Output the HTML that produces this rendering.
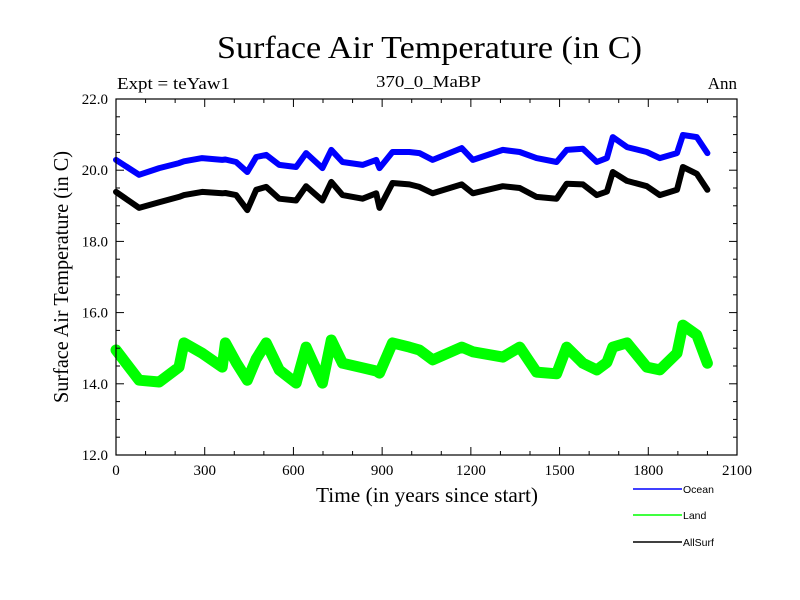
<!DOCTYPE html>
<html><head><meta charset="utf-8"><style>
body{margin:0;background:#fff}svg{display:block}
text{font-family:"Liberation Serif",serif}
</style></head><body>
<svg id="chart" width="800" height="600" viewBox="0 0 800 600">
<text x="217" y="58" font-size="32" textLength="425" lengthAdjust="spacingAndGlyphs">Surface Air Temperature (in C)</text>
<text x="117" y="89" font-size="17" textLength="113" lengthAdjust="spacingAndGlyphs">Expt = teYaw1</text>
<text x="376" y="87" font-size="17" textLength="105" lengthAdjust="spacingAndGlyphs">370_0_MaBP</text>
<text x="737" y="89" font-size="17" text-anchor="end">Ann</text>
<text transform="translate(68,277) rotate(-90)" font-size="21" text-anchor="middle" textLength="252" lengthAdjust="spacingAndGlyphs">Surface Air Temperature (in C)</text>
<text x="427" y="502" font-size="21" text-anchor="middle" textLength="222" lengthAdjust="spacingAndGlyphs">Time (in years since start)</text>
<g id="series"></g>
<g id="axes"></g>
<g>
<line x1="633" y1="489" x2="682" y2="489" stroke="#0000ff" stroke-width="1.5"/>
<text x="683" y="493" font-size="10.5" style="font-family:'Liberation Sans',sans-serif">Ocean</text>
<line x1="633" y1="515" x2="682" y2="515" stroke="#00ff00" stroke-width="1.5"/>
<text x="683" y="519" font-size="10.5" style="font-family:'Liberation Sans',sans-serif">Land</text>
<line x1="633" y1="542" x2="682" y2="542" stroke="#000" stroke-width="1.5"/>
<text x="683" y="546" font-size="10.5" style="font-family:'Liberation Sans',sans-serif">AllSurf</text>
</g>
</svg>
<script>
const years=[0,78,146,213,230,291,359,370,406,444,474,508,552,609,643,698,728,766,834,880,891,935,992,1026,1071,1169,1207,1308,1365,1422,1490,1524,1579,1626,1660,1680,1728,1795,1839,1897,1917,1964,2000];
const ocean=[20.29,19.87,20.06,20.2,20.25,20.34,20.29,20.3,20.23,19.95,20.37,20.43,20.15,20.09,20.48,20.06,20.57,20.23,20.15,20.29,20.06,20.51,20.51,20.48,20.29,20.62,20.29,20.57,20.51,20.34,20.23,20.57,20.6,20.23,20.34,20.93,20.65,20.51,20.34,20.48,20.99,20.93,20.48];
const allSurf=[19.39,18.94,19.1,19.25,19.3,19.39,19.35,19.36,19.3,18.88,19.45,19.53,19.2,19.15,19.55,19.15,19.67,19.3,19.2,19.35,18.94,19.64,19.6,19.53,19.35,19.6,19.35,19.55,19.5,19.25,19.2,19.62,19.6,19.3,19.4,19.95,19.7,19.55,19.3,19.45,20.09,19.9,19.45];
const land=[14.95,14.1,14.05,14.47,15.15,14.86,14.47,15.15,14.6,14.1,14.7,15.15,14.39,14.02,15.03,14.02,15.23,14.58,14.45,14.36,14.3,15.15,15.03,14.95,14.67,15.03,14.9,14.75,15.03,14.33,14.28,15.03,14.58,14.39,14.6,15.03,15.15,14.47,14.39,14.86,15.65,15.37,14.58];
const xTicks=[0,300,600,900,1200,1500,1800,2100];
const yTicks=["12.0","14.0","16.0","18.0","20.0","22.0"];

const X0=116,X1=737,Y0=455,Y1=99,XMIN=0,XMAX=2100,YMIN=12,YMAX=22;
const xs=v=>X0+(v-XMIN)/(XMAX-XMIN)*(X1-X0);
const ys=v=>Y0-(v-YMIN)/(YMAX-YMIN)*(Y0-Y1);
const NS="http://www.w3.org/2000/svg";
const sg=document.getElementById('series'),ag=document.getElementById('axes');
function mk(tag,attrs,parent){const e=document.createElementNS(NS,tag);for(const k in attrs)e.setAttribute(k,attrs[k]);parent.appendChild(e);return e;}
function series(vals,color,w,name){
  const pts=years.map((y,i)=>xs(y).toFixed(1)+','+ys(vals[i]).toFixed(1)).join(' ');
  const p=mk('polyline',{points:pts,fill:'none',stroke:color,'stroke-width':w,'stroke-linejoin':'round','stroke-linecap':'round'},sg);
  
  
}
series(land,'#00ff00',11,'land-line');
series(ocean,'#0000ff',6,'ocean-line');
series(allSurf,'#000000',6,'allsurf-line');

const frame=mk('rect',{x:X0,y:Y1,width:X1-X0,height:Y0-Y1,fill:'none',stroke:'#000','stroke-width':1.2},ag);


for(let v=0;v<=2100;v+=100){
  const maj=v%300===0,L=maj?8:4,x=xs(v);
  mk('line',{x1:x,y1:Y0,x2:x,y2:Y0-L,stroke:'#000'},ag);
  mk('line',{x1:x,y1:Y1,x2:x,y2:Y1+L,stroke:'#000'},ag);
}
xTicks.forEach(v=>{
  const t=mk('text',{x:xs(v),y:Y0+20,'font-size':15,'text-anchor':'middle'},ag);
  t.textContent=v;
  
  
});
for(let v=12;v<=22.001;v+=0.5){
  const maj=Math.abs(v%2)<0.01,L=maj?8:4,y=ys(v);
  mk('line',{x1:X0,y1:y,x2:X0+L,y2:y,stroke:'#000'},ag);
  mk('line',{x1:X1,y1:y,x2:X1-L,y2:y,stroke:'#000'},ag);
}
yTicks.forEach(s=>{
  const t=mk('text',{x:108,y:ys(parseFloat(s))+5,'font-size':15,'text-anchor':'end'},ag);
  t.textContent=s;
  
  
});
</script>
</body></html>
